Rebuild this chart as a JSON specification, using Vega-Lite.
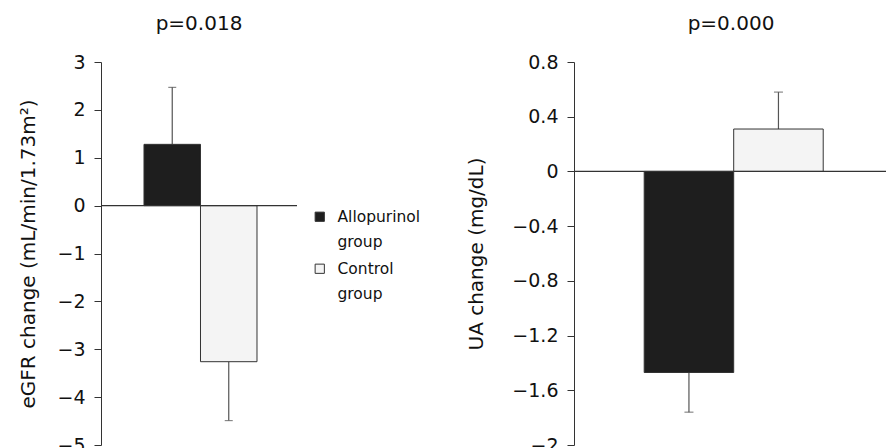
{
  "$schema": "https://vega.github.io/schema/vega-lite/v6.json",
  "background": "white",
  "padding": {"left": 18, "top": 14, "right": 0, "bottom": 0},
  "datasets": {
    "egfr": [
      {"group": "Allopurinol group", "value": 1.28, "err": 2.47},
      {"group": "Control group", "value": -3.26, "err": -4.49}
    ],
    "ua": [
      {"group": "Allopurinol group", "value": -1.47, "err": -1.76},
      {"group": "Control group", "value": 0.31, "err": 0.58}
    ]
  },
  "config": {
    "font": "DejaVu Sans",
    "view": {"stroke": null},
    "axis": {
      "labelFont": "DejaVu Sans",
      "titleFont": "DejaVu Sans",
      "labelFontSize": 19,
      "titleFontSize": 20,
      "titleFontWeight": "normal",
      "labelColor": "#111",
      "titleColor": "#111",
      "domainColor": "#333",
      "tickColor": "#333",
      "tickSize": 7,
      "labelPadding": 9,
      "grid": false
    },
    "title": {"font": "DejaVu Sans", "fontSize": 20, "fontWeight": "normal", "color": "#111", "offset": 19},
    "concat": {"spacing": 45}
  },
  "resolve": {"legend": {"color": "independent"}},
  "hconcat": [
    {
      "width": 196,
      "height": 383,
      "title": {"text": "p=0.018"},
      "data": {"name": "egfr"},
      "layer": [
        {
          "mark": {"type": "rule", "color": "#555", "strokeWidth": 1.2},
          "encoding": {
            "x": {"field": "group", "type": "nominal", "sort": ["Allopurinol group", "Control group"], "axis": null, "scale": {"paddingInner": 0, "paddingOuter": 0.7345, "align": 0.518}},
            "y": {"field": "value", "type": "quantitative", "scale": {"domain": [-5, 3], "nice": false, "zero": false},
              "axis": {"title": "eGFR change (mL/min/1.73m²)", "values": [-5, -4, -3, -2, -1, 0, 1, 2, 3], "titlePadding": 18}},
            "y2": {"field": "err"}
          }
        },
        {
          "mark": {"type": "tick", "color": "#555", "thickness": 1.2, "size": 8},
          "encoding": {
            "x": {"field": "group", "type": "nominal", "sort": ["Allopurinol group", "Control group"]},
            "y": {"field": "err", "type": "quantitative"}
          }
        },
        {
          "mark": {"type": "bar", "stroke": "#333", "strokeWidth": 1},
          "encoding": {
            "x": {"field": "group", "type": "nominal", "sort": ["Allopurinol group", "Control group"]},
            "y": {"field": "value", "type": "quantitative"},
            "y2": {"datum": 0},
            "color": {
              "field": "group", "type": "nominal",
              "scale": {"domain": ["Allopurinol group", "Control group"], "range": ["#1e1e1e", "#f4f4f4"]},
              "legend": {
                "title": null, "orient": "none", "legendX": 211, "legendY": 147,
                "symbolType": "square", "symbolSize": 85, "symbolStrokeColor": "#333", "symbolStrokeWidth": 1,
                "labelFont": "DejaVu Sans", "labelFontSize": 15.5, "labelColor": "#111", "labelOffset": 10, "labelLimit": 200,
                "labelExpr": "split(datum.label, ' ')", "rowPadding": 10,
                "encode": {"labels": {"update": {"lineHeight": {"value": 25}}}}
              }
            }
          }
        },
        {
          "data": {"values": [{}]},
          "mark": {"type": "rule", "color": "#333", "strokeWidth": 1.2},
          "encoding": {"y": {"datum": 0}}
        }
      ]
    },
    {
      "width": 314,
      "height": 383,
      "title": {"text": "p=0.000"},
      "data": {"name": "ua"},
      "layer": [
        {
          "mark": {"type": "rule", "color": "#555", "strokeWidth": 1.2},
          "encoding": {
            "x": {"field": "group", "type": "nominal", "sort": ["Allopurinol group", "Control group"], "axis": null, "scale": {"paddingInner": 0, "paddingOuter": 0.754, "align": 0.52}},
            "y": {"field": "value", "type": "quantitative", "scale": {"domain": [-2, 0.8], "nice": false, "zero": false},
              "axis": {"title": "UA change (mg/dL)", "values": [-2, -1.6, -1.2, -0.8, -0.4, 0, 0.4, 0.8], "labelExpr": "format(datum.value, '')", "titlePadding": 25}},
            "y2": {"field": "err"}
          }
        },
        {
          "mark": {"type": "tick", "color": "#555", "thickness": 1.2, "size": 9},
          "encoding": {
            "x": {"field": "group", "type": "nominal", "sort": ["Allopurinol group", "Control group"]},
            "y": {"field": "err", "type": "quantitative"}
          }
        },
        {
          "mark": {"type": "bar", "stroke": "#333", "strokeWidth": 1},
          "encoding": {
            "x": {"field": "group", "type": "nominal", "sort": ["Allopurinol group", "Control group"]},
            "y": {"field": "value", "type": "quantitative"},
            "y2": {"datum": 0},
            "color": {"field": "group", "type": "nominal", "legend": null}
          }
        },
        {
          "data": {"values": [{}]},
          "mark": {"type": "rule", "color": "#333", "strokeWidth": 1.2},
          "encoding": {"y": {"datum": 0}}
        }
      ]
    }
  ]
}
